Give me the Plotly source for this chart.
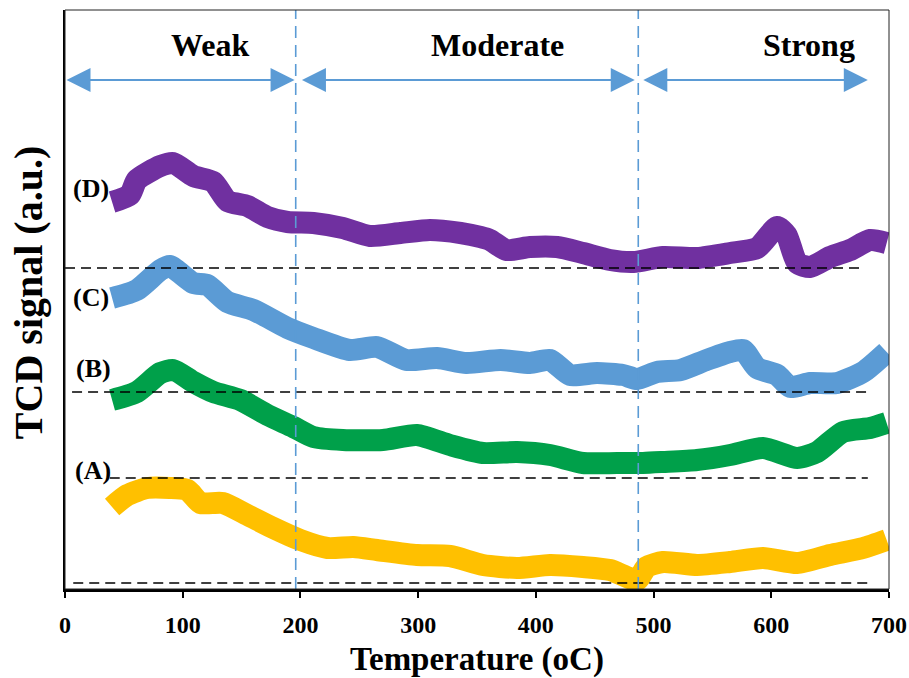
import plotly.graph_objects as go

# ---------------- data (TCD signal, arbitrary units) ----------------
temp_D = [40, 55, 61, 81, 92, 109, 126, 138, 155, 172, 189, 211, 236, 259, 285, 310, 336, 353, 361, 375,
          395, 418, 440, 463, 483, 508, 537, 565, 588, 605, 613, 622, 633, 650, 667, 684, 698]
sig_D = [387, 394, 409, 423, 426, 413, 407, 388, 383, 372, 367, 366, 361, 353, 356, 359, 356, 352, 349, 339,
         342, 342, 336, 329, 327, 332, 331, 336, 341, 362, 354, 326, 322, 332, 339, 349, 346]

temp_C = [40, 61, 81, 89, 109, 121, 138, 160, 189, 211, 242, 265, 290, 316, 341, 370, 395, 412, 429, 452,
          474, 486, 503, 523, 545, 565, 576, 588, 605, 616, 633, 656, 678, 698]
sig_C = [291, 299, 319, 323, 306, 304, 287, 279, 261, 251, 239, 242, 229, 231, 226, 229, 226, 229, 214, 216,
         214, 210, 217, 219, 229, 237, 239, 221, 214, 202, 206, 206, 217, 237]

temp_B = [40, 61, 81, 92, 109, 126, 149, 172, 194, 211, 236, 270, 299, 327, 355, 384, 412, 440, 469, 491,
          508, 537, 565, 593, 622, 639, 661, 684, 698]
sig_B = [189, 197, 216, 219, 207, 197, 189, 174, 162, 152, 149, 149, 154, 144, 136, 137, 134, 126, 126, 126,
         127, 129, 134, 141, 131, 137, 157, 161, 166]

temp_A = [40, 53, 70, 89, 104, 115, 134, 155, 177, 200, 223, 245, 265, 299, 327, 355, 384, 412, 440, 463,
          486, 494, 508, 537, 565, 593, 622, 650, 678, 698]
sig_A = [82, 94, 101, 101, 99, 86, 86, 74, 61, 49, 41, 42, 39, 34, 33, 24, 21, 24, 22, 19,
         9, 22, 27, 24, 27, 31, 26, 34, 41, 49]

series_names = ["(A)", "(B)", "(C)", "(D)"]
series_temps = [temp_A, temp_B, temp_C, temp_D]
series_sigs = [sig_A, sig_B, sig_C, sig_D]
series_colors = ["#FFC000", "#00A04A", "#5B9BD5", "#7030A0"]

# baselines (signal level, x start, x end)
baseline_levels = [6, 111, 197, 321]
baseline_starts = [7, 38, 6, 0]
baseline_ends = [682, 682, 682, 677]

# label positions for the series
label_x = [24, 24, 22, 22]
label_y = [119, 221, 292, 401]

# acid site regions
region_names = ["Weak", "Moderate", "Strong"]
region_label_x = [123, 367, 632]
region_starts = [0, 200, 490]
region_ends = [195, 484, 682]
region_borders = [196, 487]

x_ticks = [0, 100, 200, 300, 400, 500, 600, 700]
Y_MAX = 579

FONT = "Liberation Serif, Times New Roman, serif"

fig = go.Figure()

for name, t, s, c in zip(series_names, series_temps, series_sigs, series_colors):
    fig.add_trace(go.Scatter(x=t, y=s, mode="lines", name=name,
                             line=dict(color=c, width=22, shape="spline", smoothing=0.6),
                             showlegend=False, hoverinfo="skip"))

shapes = []
for lvl, xs, xe in zip(baseline_levels, baseline_starts, baseline_ends):
    shapes.append(dict(type="line", xref="x", yref="y", x0=xs, x1=xe, y0=lvl, y1=lvl,
                       line=dict(color="black", width=1.5, dash="10px,6px"), layer="above"))
for xb in region_borders:
    shapes.append(dict(type="line", xref="x", yref="y", x0=xb, x1=xb, y0=0, y1=Y_MAX,
                       line=dict(color="#5B9BD5", width=1.6, dash="12px,7px"), layer="above"))
# frame
shapes.append(dict(type="rect", xref="paper", yref="paper", x0=0, x1=1, y0=0, y1=1,
                   line=dict(color="#222", width=1), layer="above"))

annotations = []
for name, lx, ly in zip(series_names, label_x, label_y):
    annotations.append(dict(x=lx, y=ly, xref="x", yref="y", text=f"<b>{name}</b>", showarrow=False,
                            font=dict(family=FONT, size=26, color="black")))

ARROW_Y = 509
for name, lx, xs, xe in zip(region_names, region_label_x, region_starts, region_ends):
    annotations.append(dict(x=lx, y=544, xref="x", yref="y", text=f"<b>{name}</b>", showarrow=False,
                            font=dict(family=FONT, size=32, color="black")))
    annotations.append(dict(x=xe, y=ARROW_Y, ax=xs, ay=ARROW_Y, xref="x", yref="y", axref="x", ayref="y",
                            text="", showarrow=True, arrowhead=2, startarrowhead=2, arrowside="end+start",
                            arrowsize=2.4, startarrowsize=2.4, arrowwidth=2, arrowcolor="#5B9BD5",
                            standoff=0, startstandoff=0))

annotations.append(dict(x=0.5, y=-0.1226, xref="paper", yref="paper", text="<b>Temperature (oC)</b>",
                        showarrow=False, font=dict(family=FONT, size=33, color="black"),
                        xanchor="center", yanchor="middle"))
annotations.append(dict(x=-0.0449, y=0.511, xref="paper", yref="paper", text="<b>TCD signal (a.u.)</b>",
                        showarrow=False, textangle=-90, font=dict(family=FONT, size=40, color="black"),
                        xanchor="center", yanchor="middle"))

fig.update_layout(
    width=909, height=678,
    margin=dict(l=65, r=20, t=10, b=89, autoexpand=False),
    paper_bgcolor="white", plot_bgcolor="white",
    shapes=shapes, annotations=annotations,
    xaxis=dict(range=[0, 700], tickvals=x_ticks, ticktext=[f"<b>{v}</b>" for v in x_ticks],
               showgrid=False, zeroline=False, showline=True, linecolor="black", linewidth=3,
               ticks="outside", ticklen=6, tickwidth=2, tickcolor="black", automargin=False,
               tickfont=dict(family=FONT, size=24, color="black", weight="bold"), ticklabelstandoff=6),
    yaxis=dict(range=[0, Y_MAX], showgrid=False, zeroline=False, showticklabels=False,
               showline=True, linecolor="black", linewidth=1.5, ticks="", automargin=False),
)

fig.write_html("out.html")
